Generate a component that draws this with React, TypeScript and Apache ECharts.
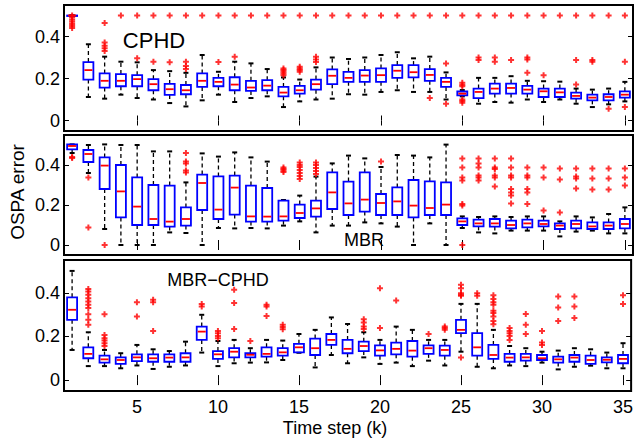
import React, { useEffect, useRef } from "react";
import * as echarts from "echarts";

const timeSteps = ["1","2","3","4","5","6","7","8","9","10","11","12","13","14","15","16","17","18","19","20","21","22","23","24","25","26","27","28","29","30","31","32","33","34","35"];
const xTickLabels = ["5","10","15","20","25","30","35"];
const yTickValues = [0, 0.2, 0.4];

// [lower whisker, Q1, median, Q3, upper whisker]
const cphdBoxes = [
  [0.5,0.5,0.5,0.5,0.5],[0.112,0.195,0.240,0.278,0.363],[0.104,0.157,0.189,0.224,0.304],[0.123,0.163,0.189,0.221,0.280],
  [0.107,0.163,0.197,0.216,0.277],[0.100,0.144,0.173,0.197,0.240],[0.083,0.122,0.149,0.174,0.235],[0.067,0.125,0.144,0.169,0.227],
  [0.096,0.160,0.189,0.224,0.312],[0.123,0.163,0.184,0.203,0.232],[0.088,0.144,0.171,0.206,0.280],[0.107,0.141,0.157,0.189,0.272],
  [0.115,0.144,0.166,0.192,0.245],[0.064,0.115,0.133,0.160,0.205],[0.091,0.128,0.144,0.165,0.195],[0.100,0.147,0.173,0.195,0.253],
  [0.104,0.173,0.213,0.243,0.300],[0.125,0.184,0.203,0.232,0.293],[0.123,0.184,0.214,0.240,0.300],[0.136,0.184,0.216,0.248,0.312],
  [0.144,0.203,0.237,0.264,0.325],[0.136,0.205,0.230,0.264,0.296],[0.136,0.189,0.217,0.245,0.304],[0.100,0.160,0.184,0.203,0.229],
  [0.115,0.120,0.128,0.138,0.145],[0.080,0.107,0.136,0.152,0.203],[0.088,0.128,0.152,0.176,0.203],[0.085,0.128,0.155,0.176,0.211],
  [0.100,0.128,0.147,0.165,0.189],[0.088,0.112,0.139,0.152,0.187],[0.100,0.112,0.134,0.152,0.185],[0.080,0.104,0.117,0.133,0.152],
  [0.064,0.096,0.109,0.123,0.147],[0.077,0.096,0.112,0.125,0.152],[0.091,0.109,0.123,0.139,0.184],
];
const cphdOutliers = [
  [0.5,0.49,0.48,0.47,0.46,0.45,0.44],[],[0.464,0.372,0.356,0.344,0.331],[0.5],[0.5,0.296],[0.5,0.28],[0.5,0.277],[0.5,0.28,0.259,0.245],
  [0.5],[0.5,0.278],[0.5,0.304],[0.5],[0.5],[0.5,0.248,0.24,0.232,0.224,0.216],[0.5,0.256,0.248,0.24,0.232],[0.5,0.304,0.291,0.278],
  [0.5],[0.5],[0.5],[0.5],[0.5],[0.5],[0.5,0.107],[0.5,0.272,0.08],[0.5,0.18,0.17,0.163,0.1,0.093,0.085],[0.5,0.3,0.288],
  [0.5,0.3,0.28],[0.5,0.288],[0.5,0.3,0.29,0.227],[0.5,0.216],[0.5],[0.5,0.288,0.171],[0.5,0.288,0.28],[0.5,0.056],[0.5,0.28,0.064],
];

const mbrBoxes = [
  [0.46,0.478,0.495,0.503,0.503],[0.36,0.415,0.455,0.475,0.50],[0.08,0.28,0.397,0.438,0.503],[0.0,0.138,0.268,0.40,0.50],
  [0.0,0.10,0.192,0.338,0.50],[0.0,0.10,0.13,0.30,0.468],[0.063,0.092,0.117,0.297,0.468],[0.06,0.097,0.13,0.188,0.313],
  [0.0,0.175,0.31,0.352,0.458],[0.085,0.13,0.177,0.343,0.442],[0.083,0.152,0.287,0.347,0.463],[0.085,0.117,0.143,0.297,0.438],
  [0.083,0.117,0.142,0.285,0.417],[0.097,0.122,0.143,0.222,0.225],[0.118,0.135,0.16,0.202,0.247],[0.063,0.142,0.183,0.222,0.342],
  [0.097,0.18,0.263,0.363,0.408],[0.097,0.15,0.208,0.317,0.447],[0.113,0.167,0.227,0.363,0.433],[0.108,0.15,0.21,0.255,0.39],
  [0.092,0.15,0.218,0.288,0.45],[0.0,0.138,0.197,0.325,0.447],[0.108,0.15,0.185,0.318,0.438],[0.0,0.15,0.202,0.313,0.502],
  [0.085,0.10,0.118,0.133,0.143],[0.063,0.093,0.108,0.127,0.14],[0.058,0.092,0.108,0.13,0.143],[0.072,0.083,0.10,0.122,0.14],
  [0.072,0.088,0.108,0.127,0.143],[0.072,0.093,0.105,0.122,0.143],[0.043,0.08,0.097,0.108,0.118],[0.067,0.083,0.105,0.122,0.143],
  [0.072,0.08,0.093,0.113,0.138],[0.058,0.08,0.097,0.113,0.155],[0.058,0.083,0.105,0.13,0.188],
];
const mbrOutliers = [
  [0.44,0.435],[0.338,0.088],[0.0],[],[],[],[],[0.46,0.417,0.408,0.372,0.363],
  [],[],[],[],[],[0.388,0.38,0.372,0.365],[0.413,0.40,0.39,0.375,0.36,0.345,0.33],[0.413,0.40,0.385,0.37,0.355],
  [],[],[],[0.417],[],[],[],[],[0.433,0.388,0.338,0.322,0.205,0.197,0.0],[0.433,0.408,0.388,0.347,0.338,0.322],
  [0.433,0.388,0.38,0.347,0.338,0.293],[0.433,0.388,0.347,0.338,0.28,0.263,0.247,0.208],[0.388,0.347,0.338,0.28,0.263,0.205],
  [0.388,0.338,0.172],[0.383,0.328,0.163],[0.383,0.342,0.333,0.283],[0.383,0.333,0.277],[0.383,0.333,0.277],[0.383,0.338,0.297],
];

const mbrCphdBoxes = [
  [0.138,0.276,0.322,0.379,0.50],[0.064,0.10,0.12,0.15,0.219],[0.064,0.08,0.095,0.112,0.138],[0.054,0.074,0.092,0.104,0.123],
  [0.067,0.087,0.104,0.118,0.161],[0.051,0.084,0.10,0.118,0.141],[0.061,0.084,0.103,0.118,0.133],[0.067,0.084,0.104,0.123,0.176],
  [0.126,0.184,0.222,0.245,0.299],[0.064,0.097,0.118,0.133,0.179],[0.077,0.104,0.13,0.146,0.184],[0.08,0.104,0.116,0.123,0.146],
  [0.081,0.107,0.12,0.15,0.184],[0.092,0.112,0.127,0.146,0.181],[0.125,0.127,0.15,0.166,0.211],[0.058,0.115,0.146,0.19,0.23],
  [0.115,0.161,0.184,0.211,0.287],[0.077,0.123,0.143,0.184,0.257],[0.104,0.133,0.156,0.176,0.219],[0.074,0.112,0.136,0.159,0.184],
  [0.08,0.118,0.143,0.172,0.245],[0.064,0.107,0.135,0.179,0.23],[0.089,0.12,0.146,0.159,0.184],[0.067,0.112,0.138,0.158,0.184],
  [0.13,0.215,0.23,0.276,0.349],[0.061,0.112,0.15,0.215,0.349],[0.054,0.097,0.115,0.161,0.23],[0.067,0.084,0.103,0.12,0.156],
  [0.064,0.089,0.104,0.12,0.146],[0.08,0.092,0.10,0.115,0.13],[0.049,0.08,0.095,0.107,0.135],[0.061,0.084,0.103,0.115,0.146],
  [0.066,0.074,0.092,0.112,0.141],[0.054,0.081,0.093,0.104,0.126],[0.054,0.077,0.097,0.115,0.169],
];
const mbrCphdOutliers = [
  [],[0.417,0.406,0.391,0.375,0.36,0.345,0.33,0.302,0.276,0.253],[0.302,0.207,0.192,0.181,0.169,0.156],[],[0.356,0.291],
  [0.368,0.357,0.225],[],[],[0.349,0.337],[0.225,0.215,0.202,0.192],[0.414,0.353,0.234],[0.179],[0.345,0.337,0.294],
  [0.253,0.243,0.233],[],[],[],[],[0.279,0.264,0.245,0.234],[0.421,0.238],[0.365],[],[0.211],[0.245,0.238,0.23],
  [0.437,0.421,0.398,0.391,0.386,0.103],[0.398,0.386],[0.388,0.371,0.356,0.345,0.317,0.307,0.291,0.271,0.256],
  [0.238,0.225,0.215,0.202,0.184],[0.303,0.253,0.211],[0.225,0.172,0.161],[0.383,0.333,0.271],[0.383,0.337,0.284],[],[],[0.388,0.348],
];

const panelNames = ["CPHD", "MBR", "MBR\u2212CPHD"];
const FONT = "Liberation Sans, Arial, Helvetica, sans-serif";
const PLUS = "path://M3,0h3v3h3v3h-3v3h-3v-3h-3v-3h3z";

const renderBox = (params: any, api: any) => {
  const idx = api.value(0);
  const lo = api.coord([idx, api.value(1)]);
  const q1 = api.coord([idx, api.value(2)]);
  const med = api.coord([idx, api.value(3)]);
  const q3 = api.coord([idx, api.value(4)]);
  const hi = api.coord([idx, api.value(5)]);
  const x = lo[0];
  const hw = 5;
  const cw = 2.5;
  const dash = { stroke: "#000", lineWidth: 1.3, lineDash: [4, 3] };
  const cap = { stroke: "#000", lineWidth: 2 };
  return {
    type: "group",
    children: [
      { type: "line", shape: { x1: x, y1: q3[1], x2: x, y2: hi[1] }, style: dash },
      { type: "line", shape: { x1: x, y1: q1[1], x2: x, y2: lo[1] }, style: dash },
      { type: "line", shape: { x1: x - cw, y1: hi[1], x2: x + cw, y2: hi[1] }, style: cap },
      { type: "line", shape: { x1: x - cw, y1: lo[1], x2: x + cw, y2: lo[1] }, style: cap },
      { type: "rect", shape: { x: x - hw, y: q3[1], width: 2 * hw, height: Math.max(q1[1] - q3[1], 0.5) }, style: { fill: "none", stroke: "#0000ff", lineWidth: 1.8 } },
      { type: "line", shape: { x1: x - hw + 1, y1: med[1], x2: x + hw - 1, y2: med[1] }, style: { stroke: "#ff0000", lineWidth: 1.8 } },
    ],
  };
};

export default function App() {
  const ref = useRef<HTMLDivElement>(null);
  useEffect(() => {
    if (!ref.current) return;
    const chart = echarts.init(ref.current, null, { renderer: "svg" });
    const panels = [
      { boxes: cphdBoxes, outliers: cphdOutliers, top: 5, height: 126 },
      { boxes: mbrBoxes, outliers: mbrOutliers, top: 135, height: 120 },
      { boxes: mbrCphdBoxes, outliers: mbrCphdOutliers, top: 260, height: 131 },
    ];
    const tickFn = (_i: number, v: string) => xTickLabels.includes(v);
    const grid: any[] = [];
    const xAxis: any[] = [];
    const yAxis: any[] = [];
    const series: any[] = [];
    panels.forEach((p, i) => {
      grid.push({ left: 64, width: 569, top: p.top, height: p.height, show: true, borderColor: "#000", borderWidth: 2, backgroundColor: "transparent" });
      const xBase = {
        gridIndex: i, type: "category", data: timeSteps, boundaryGap: true,
        axisLine: { show: false }, splitLine: { show: false },
        axisTick: { show: true, inside: true, length: 5, alignWithLabel: true, interval: tickFn, lineStyle: { color: "#000", width: 1 } },
      };
      xAxis.push({ ...xBase, position: "bottom", axisLabel: { show: i === 2, interval: tickFn, color: "#000", fontSize: 18, fontFamily: FONT, margin: 7 } });
      xAxis.push({ ...xBase, position: "top", axisLabel: { show: false } });
      const yBase = {
        gridIndex: i, type: "value", min: -0.05, max: 0.55,
        axisLine: { show: false }, splitLine: { show: false },
        axisTick: { show: true, inside: true, length: 5, customValues: yTickValues, lineStyle: { color: "#000", width: 1 } },
      };
      yAxis.push({ ...yBase, position: "left", axisLabel: { show: true, customValues: yTickValues, formatter: (v: number) => (v === 0 ? "0" : v.toFixed(1)), color: "#000", fontSize: 18, fontFamily: FONT, margin: 4 } });
      yAxis.push({ ...yBase, position: "right", axisLabel: { show: false } });
      series.push({
        type: "custom", xAxisIndex: 2 * i, yAxisIndex: 2 * i, renderItem: renderBox,
        encode: { x: 0, y: [1, 2, 3, 4, 5] },
        data: p.boxes.map((b, k) => [k, ...b]),
      });
      series.push({
        type: "scatter", xAxisIndex: 2 * i, yAxisIndex: 2 * i, symbol: PLUS, symbolSize: 6,
        itemStyle: { color: "#ff0000" },
        data: p.outliers.flatMap((arr, k) => arr.map((v) => [k, v])),
      });
    });
    chart.setOption({
      animation: false,
      backgroundColor: "#fff",
      grid, xAxis, yAxis, series,
      graphic: [
        { type: "text", x: 154, y: 40, style: { text: panelNames[0], fontSize: 22, fontFamily: FONT, fill: "#000", textAlign: "center", textVerticalAlign: "middle" } },
        { type: "text", x: 364, y: 240, style: { text: panelNames[1], fontSize: 18, fontFamily: FONT, fill: "#000", textAlign: "center", textVerticalAlign: "middle" } },
        { type: "text", x: 218, y: 280, style: { text: panelNames[2], fontSize: 18, fontFamily: FONT, fill: "#000", textAlign: "center", textVerticalAlign: "middle" } },
        { type: "text", x: 335, y: 428, style: { text: "Time step (k)", fontSize: 18, fontFamily: FONT, fill: "#000", textAlign: "center", textVerticalAlign: "middle" } },
        { type: "text", x: 17, y: 192, rotation: Math.PI / 2, style: { text: "OSPA error", fontSize: 19, fontFamily: FONT, fill: "#000", textAlign: "center", textVerticalAlign: "middle" } },
      ],
    });
    return () => chart.dispose();
  }, []);
  return <div ref={ref} style={{ position: "fixed", left: 0, top: 0, width: 636, height: 445 }} />;
}
